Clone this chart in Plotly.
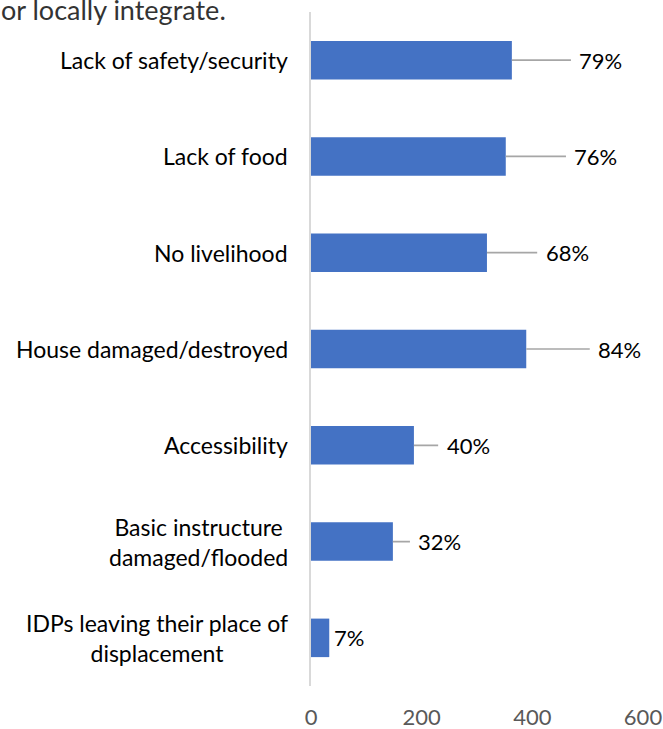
import plotly.graph_objects as go

categories = [
    "Lack of safety/security",
    "Lack of food",
    "No livelihood",
    "House damaged/destroyed",
    "Accessibility",
    "Basic instructure<br>damaged/flooded",
    "IDPs leaving their place of<br>displacement",
]
counts = [363, 352, 318, 389, 186, 148, 33]
pct_labels = ["79%", "76%", "68%", "84%", "40%", "32%", "7%"]
x_ticks = [0, 200, 400, 600]

# label placement (data units along x) - layout only
label_x = [524, 515, 463, 558, 284, 233, 69]
has_leader = [True, True, True, True, True, True, False]

FONT = "Lato"
BAR_COLOR = "#4472C4"

fig = go.Figure(
    go.Bar(
        y=list(range(len(categories))),
        x=counts,
        orientation="h",
        marker=dict(color=BAR_COLOR, line=dict(width=0)),
        hoverinfo="skip",
    )
)

annotations = []
for i, cat in enumerate(categories):
    annotations.append(dict(
        xref="paper", yref="y", x=0, y=i, xshift=-21,
        xanchor="right", yanchor="middle", align="center",
        text=cat, showarrow=False,
        font=dict(family=FONT, size=23, color="#000000"),
    ))
for i, (v, lab) in enumerate(zip(counts, pct_labels)):
    if has_leader[i]:
        annotations.append(dict(
            xref="x", yref="y", x=v, y=i,
            axref="x", ayref="y", ax=label_x[i], ay=i,
            text=lab, showarrow=True, arrowhead=0, arrowwidth=1.7,
            arrowcolor="#A6A6A6", borderpad=8, standoff=0,
            font=dict(family=FONT, size=22, color="#000000"),
        ))
    else:
        annotations.append(dict(
            xref="x", yref="y", x=label_x[i], y=i,
            text=lab, showarrow=False, xanchor="center",
            font=dict(family=FONT, size=22, color="#000000"),
        ))

annotations.append(dict(
    xref="paper", yref="paper", x=0, y=1, xshift=-312, yshift=3,
    xanchor="left", yanchor="middle",
    text="or locally integrate.", showarrow=False,
    font=dict(family=FONT, size=27, color="#333333"),
))

fig.update_layout(
    width=663, height=729,
    margin=dict(l=311, r=20, t=12, b=43),
    plot_bgcolor="white", paper_bgcolor="white",
    showlegend=False,
    bargap=0.6,
    hovermode=False,
    annotations=annotations,
    xaxis=dict(
        range=[0, 600], tickvals=x_ticks, showgrid=False, zeroline=False,
        showline=False, ticks="", ticklabelstandoff=16, automargin=False,
        tickfont=dict(family=FONT, size=22, color="#595959"),
    ),
    yaxis=dict(
        range=[6.5, -0.5], showticklabels=False, showgrid=False,
        zeroline=False, showline=True, linecolor="#D9D9D9", linewidth=1.6,
        ticks="", automargin=False,
    ),
)

fig.write_html(
    "out.html",
    config={"displayModeBar": False, "staticPlot": True},
    post_script="document.body.style.margin='0';document.body.style.overflow='hidden';",
)
